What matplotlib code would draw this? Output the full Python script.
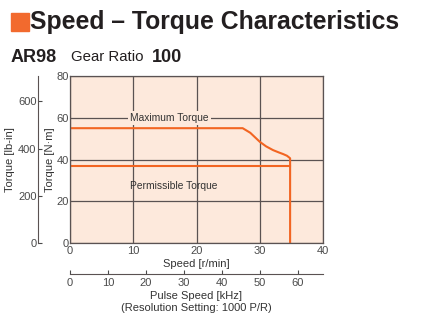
import matplotlib
matplotlib.use("Agg")
import matplotlib.pyplot as plt
from matplotlib.patches import Rectangle

# torque curves, speed in r/min, torque in N·m
max_speed = [0, 27.3, 28.5, 30.0, 31.0, 32.1, 33.0, 33.7, 34.3, 34.8, 34.8]
max_torque = [55, 55, 52.8, 48.5, 46.3, 44.5, 43.4, 42.6, 41.8, 40.6, 0]
perm_speed = [0, 34.8]
perm_torque = [37, 37]

speed_ticks = [0, 10, 20, 30, 40]
torque_ticks = [0, 20, 40, 60, 80]
lbin_ticks = [0, 200, 400, 600]
pulse_ticks = [0, 10, 20, 30, 40, 50, 60]

NM_TO_LBIN = 8.851
RPM_TO_KHZ = 100 * 1000 / 60 / 1000  # gear ratio 100, 1000 P/R

orange = "#f26522"
panel = "#fde9dc"
gridc = "#5a5252"
textc = "#4a4a4a"
sans = ["Liberation Sans", "DejaVu Sans"]

plt.rcParams["font.family"] = sans

fig = plt.figure(figsize=(4.25, 3.25), dpi=100)
W, H = 425, 325

# header
fig.patches.append(Rectangle((11 / W, 1 - 31 / H), 18 / W, 18 / H,
                             transform=fig.transFigure, color="#f26a2e"))
fig.text(30 / W, 1 - 22 / H, "Speed – Torque Characteristics", fontsize=17.8,
         fontweight="bold", color="#231f20", va="center", ha="left")
fig.text(11 / W, 1 - 57 / H, "AR98", fontsize=13, fontweight="bold",
         color="#231f20", va="center")
fig.text(71 / W, 1 - 57 / H, "Gear Ratio", fontsize=10.8, color="#231f20",
         va="center")
fig.text(152 / W, 1 - 57 / H, "100", fontsize=13, fontweight="bold",
         color="#231f20", va="center")

ax = fig.add_axes([70 / W, 82 / H, 253 / W, 167 / H])
ax.set_facecolor(panel)
ax.set_xlim(0, 40)
ax.set_ylim(0, 80)
ax.set_xticks(speed_ticks)
ax.set_yticks(torque_ticks)
ax.tick_params(length=0, labelsize=8, colors=textc, pad=1)
ax.tick_params(axis="x", pad=2)
ax.grid(True, color=gridc, linewidth=0.9)
for s in ax.spines.values():
    s.set_color(gridc)
    s.set_linewidth(0.9)
ax.set_axisbelow(True)

ax.plot(max_speed, max_torque, color=orange, linewidth=1.5)
ax.plot(perm_speed, perm_torque, color=orange, linewidth=1.5)

ax.text(9.5, 60, "Maximum Torque", fontsize=7.4, color="#333333", va="center",
        bbox=dict(facecolor=panel, edgecolor="none", pad=1.5))
ax.text(9.5, 27.5, "Permissible Torque", fontsize=7.4, color="#333333",
        va="center")

ax.set_xlabel("Speed [r/min]", fontsize=8, color="#333333", labelpad=2)
ax.set_ylabel("Torque [N·m]", fontsize=8, color="#333333", labelpad=1)

# lb-in scale on the far left
lb = ax.secondary_yaxis(-32 / 253, functions=(lambda v: v * NM_TO_LBIN,
                                              lambda v: v / NM_TO_LBIN))
lb.set_yticks(lbin_ticks)
lb.tick_params(direction="in", length=3, labelsize=8, colors=textc, pad=1)
lb.spines["left"].set_color(gridc)
lb.set_ylabel("Torque [lb-in]", fontsize=8, color="#333333", labelpad=2)

# pulse speed scale below
ps = ax.secondary_xaxis(-31 / 167, functions=(lambda v: v * RPM_TO_KHZ,
                                              lambda v: v / RPM_TO_KHZ))
ps.set_xticks(pulse_ticks)
ps.tick_params(direction="in", length=3, labelsize=8, colors=textc, pad=3)
ps.spines["bottom"].set_color(gridc)
ps.set_xlabel("Pulse Speed [kHz]\n(Resolution Setting: 1000 P/R)",
              fontsize=8, color="#333333", labelpad=2, linespacing=1.3)

fig.savefig("out.png", dpi=100)
